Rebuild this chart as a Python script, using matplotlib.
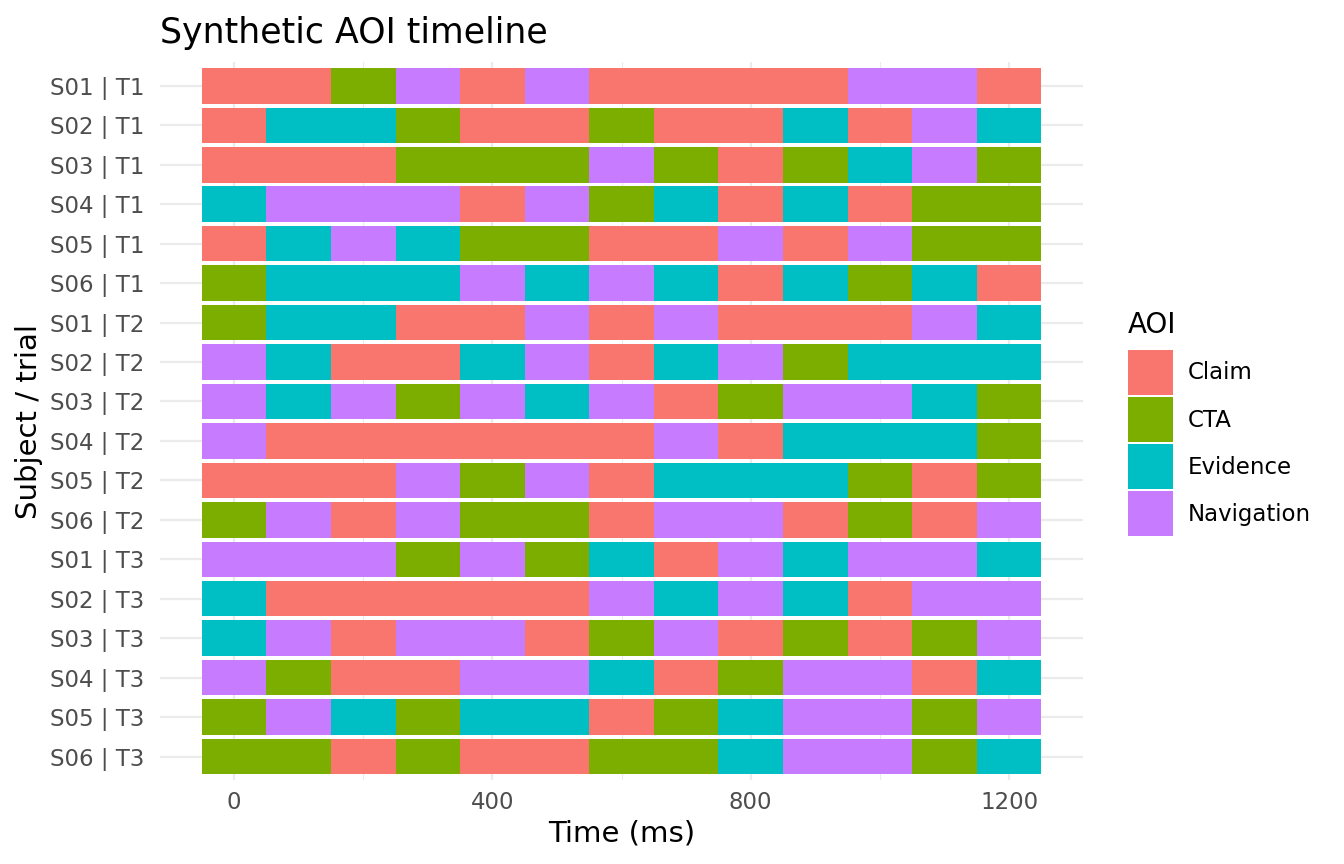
import numpy as np
import matplotlib.pyplot as plt
from matplotlib.patches import Patch

# AOI order and colours (ggplot default hue palette)
aoi_names = ["Claim", "CTA", "Evidence", "Navigation"]
aoi_colors = ["#F8766D", "#7CAE00", "#00BFC4", "#C77CFF"]
code_map = {"C": "Claim", "T": "CTA", "E": "Evidence", "N": "Navigation"}

# time bins (ms), each tile is 100 ms wide
times = [0, 100, 200, 300, 400, 500, 600, 700, 800, 900, 1000, 1100, 1200]

# rows from top to bottom
row_labels = [
    "S01 | T1", "S02 | T1", "S03 | T1", "S04 | T1", "S05 | T1", "S06 | T1",
    "S01 | T2", "S02 | T2", "S03 | T2", "S04 | T2", "S05 | T2", "S06 | T2",
    "S01 | T3", "S02 | T3", "S03 | T3", "S04 | T3", "S05 | T3", "S06 | T3",
]

# AOI sequence per row (C=Claim, T=CTA, E=Evidence, N=Navigation)
sequences = [
    "CCTNCNCCCCNNC",
    "CEETCCTCCECNE",
    "CCCTTTNTCTENT",
    "ENNNCNTECECTT",
    "CENETTCCNCNTT",
    "TEEENENECETEC",
    "TEECCNCNCCCNE",
    "NECCENCENTEEE",
    "NENTNENCTNNET",
    "NCCCCCCNCEEET",
    "CCCNTNCEEETCT",
    "TNCNTTCNNCTCN",
    "NNNTNTECNENNE",
    "ECCCCCNENECNN",
    "ENCNNCTNCTCTN",
    "NTCCNNECTNNCE",
    "TNETEECTENNTN",
    "TTCTCCTTENNTE",
]

fig = plt.figure(figsize=(13.44, 8.64), dpi=100)
ax = fig.add_axes([0.119, 0.097, 0.687, 0.831])

color_of = dict(zip(aoi_names, aoi_colors))
n_rows = len(row_labels)
for i, seq in enumerate(sequences):
    cols = [color_of[code_map[c]] for c in seq]
    ax.barh([i] * len(times), [100] * len(times), left=np.array(times) - 50,
            height=0.9, color=cols, linewidth=0, zorder=2)

# axes styling (theme_minimal-like)
ax.set_xlim(-115, 1315)
ax.set_ylim(n_rows - 0.4, -0.6)
ax.set_yticks(range(n_rows))
ax.set_yticklabels(row_labels)
ax.set_xticks([0, 400, 800, 1200])
ax.set_xticks([200, 600, 1000], minor=True)
ax.grid(True, which="major", color="#ebebeb", linewidth=1.6, zorder=0)
ax.grid(True, which="minor", axis="x", color="#ebebeb", linewidth=0.8, zorder=0)
ax.set_axisbelow(True)
for s in ax.spines.values():
    s.set_visible(False)
ax.tick_params(which="both", length=0, labelsize=16.5, labelcolor="#4d4d4d")
ax.tick_params(axis="y", pad=11)
ax.tick_params(axis="x", pad=8)

ax.set_xlabel("Time (ms)", fontsize=21, labelpad=4)
ax.set_ylabel("Subject / trial", fontsize=21, labelpad=5)
ax.set_title("Synthetic AOI timeline", fontsize=25, loc="left", x=0.0, pad=14)

# legend: title as separate text, keys below it
fig.text(1128 / 1344, 1 - 333 / 864, "AOI", fontsize=20, va="baseline", ha="left")
handles = [Patch(facecolor=c, edgecolor="none", label=n) for n, c in zip(aoi_names, aoi_colors)]
leg = fig.legend(handles=handles, loc="upper left",
                 bbox_to_anchor=(1128 / 1344, 1 - 350 / 864), frameon=False,
                 fontsize=16.5, handlelength=1.96, handleheight=2.646,
                 labelspacing=0.09, handletextpad=0.65, borderpad=0,
                 borderaxespad=0)

fig.savefig("out.png", dpi=100)
